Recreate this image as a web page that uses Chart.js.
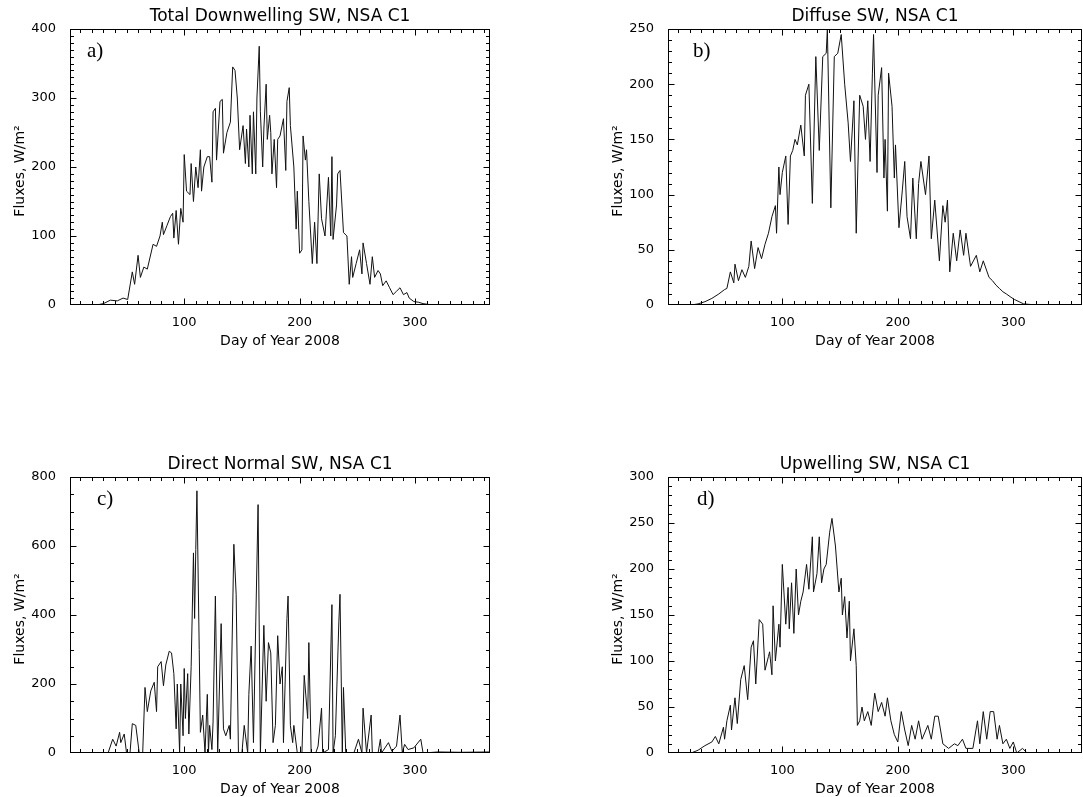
<!DOCTYPE html>
<html><head><meta charset="utf-8">
<script src="https://cdn.jsdelivr.net/npm/chart.js@4.4.1/dist/chart.umd.min.js"></script>
<style>
html,body{margin:0;padding:0;background:#fff;width:1083px;height:797px;overflow:hidden}
canvas{position:absolute}
</style></head><body>
<canvas id="ca" width="541" height="397" style="left:0;top:0"></canvas>
<canvas id="cb" width="542" height="397" style="left:541px;top:0"></canvas>
<canvas id="cc" width="541" height="400" style="left:0;top:397px"></canvas>
<canvas id="cd" width="542" height="400" style="left:541px;top:397px"></canvas>
<script>
// ---- data (day of year 2008, W/m^2) ----
const xTickValues = [100, 200, 300];

const daysA = [1,24,30,36,42,47,51,55,57,60,
62,65,68,73,76,79,81,82,85,88,
90,91,93,95,97,99,100,102,105,106,
108,110,112,114,115,117,120,122,124,125,
127,128,131,133,134,137,140,142,144,146,
148,151,153,154,156,157,159,160,162,163,
165,166,168,169,171,172,174,175,176,178,
180,181,183,186,188,189,191,192,195,197,
198,200,202,203,205,206,208,211,213,215,
217,219,222,225,227,228,229,232,233,235,
238,241,243,245,246,249,252,254,255,258,
261,263,265,268,270,272,275,278,281,284,
287,290,293,295,299,303,307,315,365];
const fluxA = [0,0,2,7,6,10,8,48,30,72,
40,55,52,88,85,100,120,102,115,128,
133,97,137,88,140,120,218,165,160,205,
150,200,170,225,165,200,215,215,178,280,
285,210,295,298,220,250,265,345,340,300,
225,260,205,255,200,275,190,280,190,300,
375,280,200,255,320,240,275,250,190,240,
170,240,245,270,195,295,315,260,200,110,
165,75,80,245,210,225,150,60,120,60,
190,125,100,185,100,215,95,145,190,195,
105,100,30,70,40,60,80,45,90,60,
30,70,40,50,45,28,35,25,15,20,
25,15,18,10,5,4,2,0,0];

const daysB = [1,21,27,33,39,45,50,52,55,58,
59,62,65,68,71,73,76,79,82,85,
88,91,94,95,97,98,100,103,105,107,
109,111,113,116,119,120,123,126,129,132,
135,138,139,142,145,148,151,154,157,159,
162,164,167,170,172,174,176,178,179,182,
183,186,188,189,191,192,195,197,198,201,
204,206,208,211,213,216,218,220,224,227,
229,232,236,239,241,243,245,248,251,254,
257,259,263,268,271,274,279,282,285,288,
291,294,298,301,305,309,320,361];
const fluxB = [0,0,1,3,6,10,14,15,30,20,
37,22,32,25,35,58,33,52,42,55,
65,80,90,65,125,100,120,135,73,135,
140,150,145,163,135,190,200,92,225,140,
225,228,250,88,225,228,245,200,165,130,
185,65,190,180,150,185,130,210,245,120,
190,215,115,150,85,210,180,115,145,70,
105,130,80,60,115,60,110,130,100,135,
60,95,40,90,75,95,30,65,40,68,
45,65,35,45,30,40,25,22,18,15,
12,10,7,5,3,1,0,0];

const daysC = [1,34,38,41,44,45,48,50,53,55,
58,61,64,66,68,71,74,76,77,80,
82,84,87,89,91,93,94,96,97,99,
100,101,103,104,106,108,109,110,111,113,
114,116,118,120,121,122,124,125,127,129,
132,134,136,139,140,143,145,147,150,152,
155,156,158,160,162,164,166,169,171,173,
175,177,179,181,183,185,186,189,190,192,
194,195,198,202,204,207,208,210,214,216,
219,220,225,228,229,231,234,235,237,238,
240,247,251,254,255,258,262,263,268,270,
271,277,280,284,287,289,291,294,299,305,
307,320,340,365];
const fluxC = [0,0,40,20,60,30,55,0,0,85,
80,0,0,190,120,180,205,120,250,265,
195,255,295,290,230,70,200,0,200,50,
245,100,230,55,250,580,390,590,760,300,
60,110,0,170,0,80,10,90,455,0,
375,70,50,80,40,605,460,0,0,80,
0,170,310,30,380,720,0,370,150,320,
290,30,80,340,200,250,30,390,455,80,
30,80,0,0,225,100,320,0,0,20,
130,0,10,430,0,50,380,460,0,190,
0,0,40,0,130,0,110,0,0,40,
0,30,5,20,110,0,25,10,15,40,
0,3,2,3];

const daysD = [1,21,27,33,39,42,45,49,50,52,
55,56,59,61,64,67,70,73,75,77,
80,83,85,88,89,91,92,94,97,98,
100,103,105,106,108,110,112,114,116,118,
121,123,126,127,130,132,134,136,138,141,
143,146,149,151,152,154,156,158,159,162,
164,165,167,169,171,174,177,180,183,186,
189,191,194,197,200,203,206,209,212,215,
218,221,226,229,232,235,239,244,249,252,
256,259,265,269,271,274,277,280,283,286,
288,291,294,297,300,303,308,312,361];
const fluxD = [0,0,3,8,12,18,10,28,15,35,
52,25,60,32,80,95,58,115,122,75,
145,140,90,105,110,85,160,100,140,115,
205,140,180,135,185,130,200,150,165,175,
205,178,235,175,195,235,185,200,205,240,
255,225,175,190,150,170,125,165,100,135,
95,30,35,50,35,45,30,65,45,55,
40,60,35,20,12,45,25,8,30,15,
35,15,30,15,40,40,10,5,10,8,
15,5,5,35,10,45,15,45,45,15,
30,10,15,5,12,0,5,0,0];

const yTicksA = [0,100,200,300,400];
const yTicksB = [0,50,100,150,200,250];
const yTicksC = [0,200,400,600,800];
const yTicksD = [0,50,100,150,200,250,300];

const titles = ['Total Downwelling SW, NSA C1','Diffuse SW, NSA C1','Direct Normal SW, NSA C1','Upwelling SW, NSA C1'];
const tags = ['a)','b)','c)','d)'];
const xTitle = 'Day of Year 2008';
const yTitle = 'Fluxes, W/m\u00B2';

// ---- layout / style ----
const FONT = 'DejaVu Sans';
const panels = [
  {id:'ca', days:daysA, flux:fluxA, yTicks:yTicksA, yMinor:10, xMax:365, pad:{left:0,right:51,top:29,bottom:0}, xH:92, tagDx:17},
  {id:'cb', days:daysB, flux:fluxB, yTicks:yTicksB, yMinor:10, xMax:359.5, pad:{left:57,right:1,top:29,bottom:0}, xH:92, tagDx:25},
  {id:'cc', days:daysC, flux:fluxC, yTicks:yTicksC, yMinor:50, xMax:365, pad:{left:0,right:51,top:80,bottom:0}, xH:44, tagDx:27},
  {id:'cd', days:daysD, flux:fluxD, yTicks:yTicksD, yMinor:10, xMax:359.5, pad:{left:57,right:1,top:80,bottom:0}, xH:44, tagDx:29}
];

function makeBox(p, i) {
  return {
    id: 'idlBox' + i,
    afterDraw(chart) {
      const {ctx, chartArea: a} = chart;
      const xs = chart.scales.x, ys = chart.scales.y;
      ctx.save();
      ctx.strokeStyle = '#000'; ctx.lineWidth = 1;
      const L = Math.round(a.left) + 0.5, R = Math.round(a.right) - 0.5;
      const T = Math.round(a.top) + 0.5, B = Math.round(a.bottom) - 0.5;
      ctx.strokeRect(L, T, R - L, B - T);
      ctx.beginPath();
      for (let d = 10; d < xs.max; d += 10) {
        const px = Math.round(xs.getPixelForValue(d)) + 0.5;
        const len = xTickValues.includes(d) ? 6 : 3.5;
        ctx.moveTo(px, B); ctx.lineTo(px, B - len);
        ctx.moveTo(px, T); ctx.lineTo(px, T + len);
      }
      for (let v = p.yMinor; v < ys.max; v += p.yMinor) {
        const py = Math.round(ys.getPixelForValue(v)) + 0.5;
        const len = p.yTicks.includes(v) ? 6 : 3.5;
        ctx.moveTo(L, py); ctx.lineTo(L + len, py);
        ctx.moveTo(R, py); ctx.lineTo(R - len, py);
      }
      ctx.stroke();
      ctx.fillStyle = '#000';
      const cx = (a.left + a.right) / 2;
      ctx.textAlign = 'center'; ctx.textBaseline = 'alphabetic';
      ctx.font = '17px "' + FONT + '"';
      ctx.fillText(titles[i], cx, a.top - 8);
      ctx.font = '14px "' + FONT + '"';
      ctx.fillText(xTitle, cx, a.bottom + 40);
      ctx.save();
      ctx.translate(a.left - 46, (a.top + a.bottom) / 2 + 4);
      ctx.rotate(-Math.PI / 2);
      ctx.font = '14px "' + FONT + '"';
      ctx.fillText(yTitle, 0, 0);
      ctx.restore();
      ctx.textAlign = 'left';
      ctx.font = '21px "Liberation Serif"';
      ctx.fillText(tags[i], a.left + p.tagDx, a.top + 28);
      ctx.restore();
    }
  };
}

panels.forEach((p, i) => {
  new Chart(document.getElementById(p.id), {
    type: 'line',
    data: {
      datasets: [{
        data: p.days.map((d, k) => ({x: d, y: p.flux[k]})),
        borderColor: '#111', borderWidth: 1, pointRadius: 0, tension: 0, fill: false
      }]
    },
    options: {
      responsive: false, animation: false, devicePixelRatio: 1,
      layout: {padding: p.pad},
      plugins: {legend: {display: false}, tooltip: {enabled: false}, title: {display: false}},
      scales: {
        x: {
          type: 'linear', min: 1, max: p.xMax,
          afterBuildTicks: s => { s.ticks = xTickValues.map(v => ({value: v})); },
          afterFit: s => { s.height = p.xH; },
          grid: {display: false, drawTicks: false}, border: {display: false},
          ticks: {color: '#000', font: {family: FONT, size: 13}, padding: 10, maxRotation: 0, autoSkip: false}
        },
        y: {
          type: 'linear', min: 0, max: p.yTicks[p.yTicks.length - 1],
          afterBuildTicks: s => { s.ticks = p.yTicks.map(v => ({value: v})); },
          afterFit: s => { s.width = 70; },
          grid: {display: false, drawTicks: false}, border: {display: false},
          ticks: {color: '#000', font: {family: FONT, size: 13}, padding: 14}
        }
      }
    },
    plugins: [makeBox(p, i)]
  });
});
</script>
</body></html>
